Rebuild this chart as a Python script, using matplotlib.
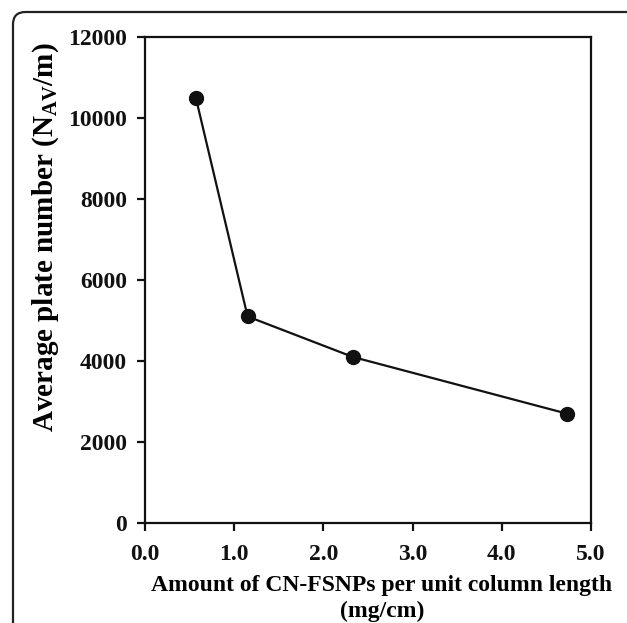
import matplotlib
matplotlib.use("Agg")
import matplotlib.pyplot as plt
from matplotlib.patches import FancyBboxPatch

x_vals = [0.57, 1.15, 2.33, 4.73]
y_vals = [10500, 5100, 4100, 2700]
x_ticks = [0.0, 1.0, 2.0, 3.0, 4.0, 5.0]
y_ticks = [0, 2000, 4000, 6000, 8000, 10000, 12000]

plt.rcParams['font.family'] = ['Liberation Serif', 'DejaVu Serif']
plt.rcParams['font.weight'] = 'bold'
plt.rcParams['mathtext.fontset'] = 'custom'
plt.rcParams['mathtext.rm'] = 'Liberation Serif:bold'
plt.rcParams['mathtext.it'] = 'Liberation Serif:bold'
plt.rcParams['mathtext.bf'] = 'Liberation Serif:bold'

W, H = 627, 623
fig = plt.figure(figsize=(W/100, H/100), dpi=100)

# outer rounded frame (only top-left visible)
frame = FancyBboxPatch((13/W, -0.2), 1.2, (H-12)/H + 0.2,
                       boxstyle="round,pad=0,rounding_size=0.02",
                       transform=fig.transFigure, fill=False,
                       edgecolor='#222222', linewidth=1.6, clip_on=False)
fig.patches.append(frame)

ax = fig.add_axes([145/W, 1-523/H, (591-145)/W, (523-37)/H])
ax.plot(x_vals, y_vals, color='#111111', linewidth=1.6, marker='o',
        markersize=10, markerfacecolor='#111111', markeredgecolor='#111111')
ax.set_xlim(0, 5)
ax.set_ylim(0, 12000)
ax.set_xticks(x_ticks)
ax.set_xticklabels([f"{v:.1f}" for v in x_ticks])
ax.set_yticks(y_ticks)
ax.set_yticklabels([str(v) for v in y_ticks])
for s in ax.spines.values():
    s.set_linewidth(1.6)
    s.set_color('#111111')
ax.tick_params(direction='out', length=6, width=1.6, labelsize=17, colors='#111111', pad=7)
ax.tick_params(axis='x', pad=9)

ax.set_xlabel("Amount of CN-FSNPs per unit column length\n(mg/cm)", fontsize=17,
              fontweight='bold', linespacing=1.28)
ax.xaxis.set_label_coords(0.531, -0.108, transform=ax.transAxes)
ax.xaxis.label.set_va('top')
ax.set_ylabel(r"Average plate number (N$_{\mathrm{AV}}$/m)", fontsize=21, fontweight='bold')
ax.yaxis.set_label_coords((61-145)/446, 0.589, transform=ax.transAxes)

fig.savefig("out.png", dpi=100)
